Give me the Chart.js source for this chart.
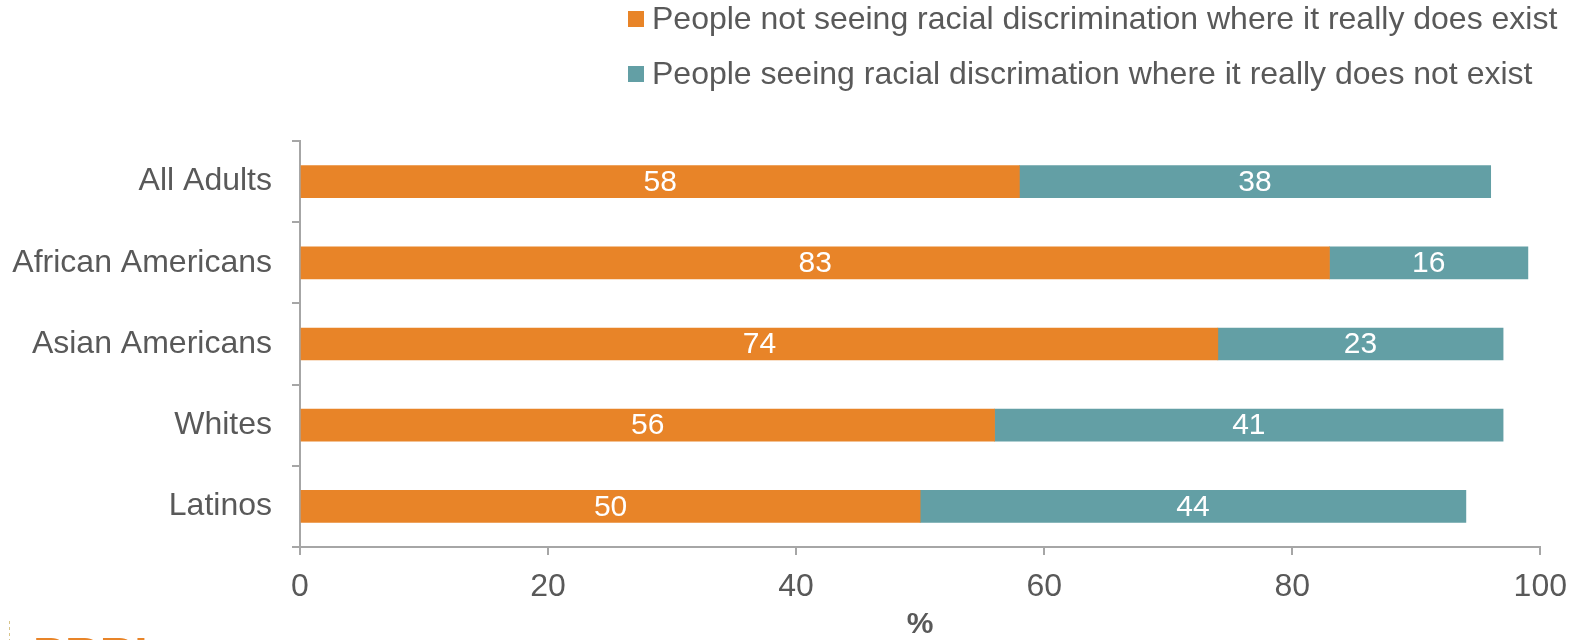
<!DOCTYPE html>
<html>
<head>
<meta charset="utf-8">
<script src="https://cdn.jsdelivr.net/npm/chart.js@4.4.1/dist/chart.umd.min.js"></script>
<style>
html,body{margin:0;padding:0;background:#fff;}
#wrap{width:1580px;height:640px;position:relative;}
</style>
</head>
<body>
<div id="wrap"><canvas id="c" width="1580" height="640"></canvas></div>
<script>
const categories = ["All Adults", "African Americans", "Asian Americans", "Whites", "Latinos"];
const notSeeing = [58, 83, 74, 56, 50];
const seeing = [38, 16, 23, 41, 44];
const seriesNames = [
  "People not seeing racial discrimination where it really does exist",
  "People seeing racial discrimation where it really does not exist"
];
const xTicks = [0, 20, 40, 60, 80, 100];

const ORANGE = '#E88428';
const TEAL = '#639FA5';
const TEXT = '#595959';
const AXIS = '#A6A6A6';
const FONT = '"Liberation Sans", Arial, Helvetica, sans-serif';

const valueLabels = {
  id: 'valueLabels',
  afterDatasetsDraw(chart) {
    const ctx = chart.ctx;
    ctx.save();
    ctx.fillStyle = '#ffffff';
    ctx.font = '30px ' + FONT;
    ctx.textAlign = 'center';
    ctx.textBaseline = 'middle';
    chart.data.datasets.forEach((ds, di) => {
      const meta = chart.getDatasetMeta(di);
      meta.data.forEach((bar, i) => {
        const v = ds.data[i];
        const x = (bar.x + bar.base) / 2;
        ctx.fillText(String(v), x, bar.y + 1);
      });
    });
    ctx.restore();
  }
};

const customLegend = {
  id: 'customLegend',
  afterDraw(chart) {
    const ctx = chart.ctx;
    ctx.save();
    ctx.font = '32px ' + FONT;
    ctx.textBaseline = 'middle';
    ctx.textAlign = 'left';
    const rows = [19, 74];
    chart.data.datasets.forEach((ds, i) => {
      const y = rows[i];
      ctx.fillStyle = ds.backgroundColor;
      ctx.fillRect(628, y - 8, 16, 16);
      ctx.fillStyle = TEXT;
      ctx.fillText(ds.label, 652, y + 1);
    });
    // partial logo at bottom-left
    ctx.fillStyle = ORANGE;
    ctx.font = 'bold 48px ' + FONT;
    ctx.textBaseline = 'alphabetic';
    ctx.fillText('PRRI', 33, 671);
    ctx.strokeStyle = '#D8C48A';
    ctx.lineWidth = 1;
    ctx.setLineDash([3, 3]);
    ctx.beginPath();
    ctx.moveTo(9.5, 621);
    ctx.lineTo(9.5, 640);
    ctx.stroke();
    ctx.restore();
  }
};

new Chart(document.getElementById('c'), {
  type: 'bar',
  data: {
    labels: categories,
    datasets: [
      { label: seriesNames[0], data: notSeeing, backgroundColor: ORANGE, borderWidth: 0 },
      { label: seriesNames[1], data: seeing, backgroundColor: TEAL, borderWidth: 0 }
    ]
  },
  options: {
    indexAxis: 'y',
    responsive: false,
    animation: false,
    devicePixelRatio: 1,
    layout: { padding: { top: 141, right: 36, bottom: 0, left: 0 } },
    plugins: {
      legend: { display: false },
      tooltip: { enabled: false }
    },
    datasets: { bar: { barThickness: 32 } },
    scales: {
      y: {
        stacked: true,
        grid: { offset: true, drawOnChartArea: false, drawTicks: true, tickLength: 8, color: AXIS, lineWidth: 2 },
        border: { color: AXIS, width: 2 },
        ticks: { color: TEXT, font: { family: FONT, size: 32 }, padding: 20 },
        afterFit(s) { s.width = 300; }
      },
      x: {
        stacked: true,
        min: 0, max: 100,
        afterBuildTicks(s) { s.ticks = xTicks.map(v => ({ value: v })); },
        grid: { drawOnChartArea: false, drawTicks: true, tickLength: 8, color: AXIS, lineWidth: 2 },
        border: { color: AXIS, width: 2 },
        ticks: { color: TEXT, font: { family: FONT, size: 32 }, padding: 13 },
        title: { display: true, text: '%', color: TEXT, font: { family: FONT, size: 30, weight: 'bold', lineHeight: 1.0 }, padding: { top: 0, bottom: 0 } },
        afterFit(s) { s.height = 93; }
      }
    }
  },
  plugins: [valueLabels, customLegend]
});
</script>
</body>
</html>
